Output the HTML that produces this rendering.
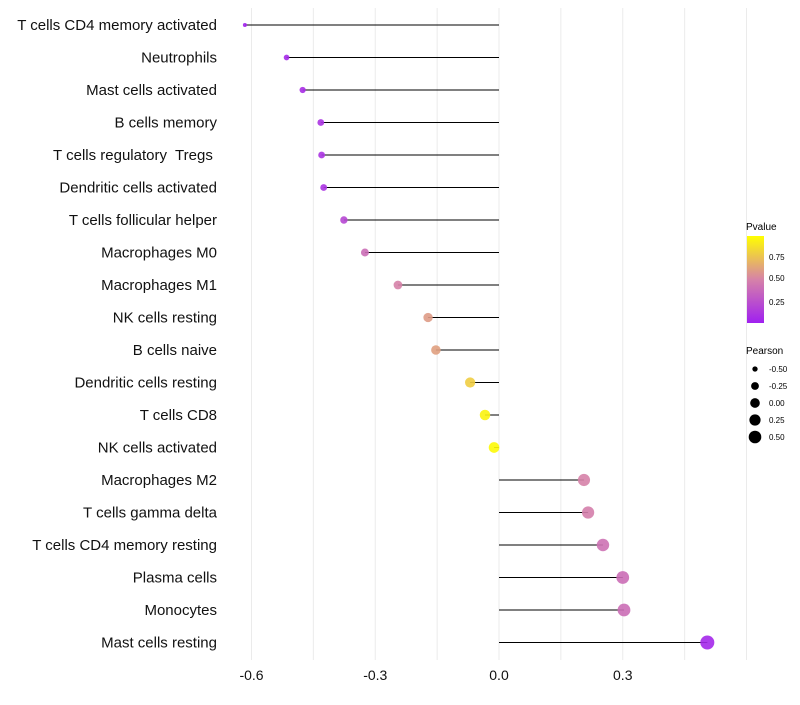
<!DOCTYPE html>
<html><head><meta charset="utf-8"><style>
body{margin:0;background:#fff;font-family:"Liberation Sans",sans-serif}
</style></head><body>
<svg id="chart" width="800" height="700" xmlns="http://www.w3.org/2000/svg" font-family="Liberation Sans, sans-serif">
<g id="grid"></g>
<g id="marks"></g>
<g id="axes"></g>
<g id="legend">
<defs><linearGradient id="pg" x1="0" y1="1" x2="0" y2="0">
<stop offset="0" stop-color="#a020f0"/><stop offset="0.5" stop-color="#d682a8"/><stop offset="1" stop-color="#ffff00"/></linearGradient></defs>
<text x="746" y="230" font-size="10">Pvalue</text>
<rect x="747" y="236" width="17" height="87" fill="url(#pg)"/>
<text x="769" y="260" font-size="8">0.75</text>
<text x="769" y="281" font-size="8">0.50</text>
<text x="769" y="305" font-size="8">0.25</text>
<text x="746" y="354" font-size="10">Pearson</text>
</g>
</svg>
<script>
const categories=["T cells CD4 memory activated","Neutrophils","Mast cells activated","B cells memory","T cells regulatory  Tregs ","Dendritic cells activated","T cells follicular helper","Macrophages M0","Macrophages M1","NK cells resting","B cells naive","Dendritic cells resting","T cells CD8","NK cells activated","Macrophages M2","T cells gamma delta","T cells CD4 memory resting","Plasma cells","Monocytes","Mast cells resting"];
const pearson=[-0.616,-0.515,-0.476,-0.432,-0.43,-0.425,-0.376,-0.325,-0.245,-0.172,-0.153,-0.07,-0.034,-0.012,0.206,0.216,0.252,0.30,0.303,0.505];
const pvalue=[0.02,0.05,0.07,0.1,0.1,0.1,0.2,0.4,0.5,0.6,0.62,0.8,0.95,0.98,0.5,0.48,0.42,0.4,0.4,0.04];
const xTicks=[-0.6,-0.3,0.0,0.3];
const xTickLabels=["-0.6","-0.3","0.0","0.3"];
const legendSizes=[-0.5,-0.25,0,0.25,0.5];
const legendLabels=["-0.50","-0.25","0.00","0.25","0.50"];
const NS="http://www.w3.org/2000/svg";
const x=v=>499+v*412.5;
const y=i=>25+i*32.5;
const r=v=>Math.sqrt(Math.max(2,28.8+40.1*v));
function lerp(a,b,t){return a+(b-a)*t}
function col(p){const s=[[0,[160,32,240]],[0.5,[214,130,168]],[1,[255,255,0]]];let k=p<0.5?0:1;const t=(p-s[k][0])/0.5;const c=s[k][1].map((v,j)=>Math.round(lerp(v,s[k+1][1][j],t)));return`rgb(${c})`}
function mk(tag,attrs,parent){const e=document.createElementNS(NS,tag);for(const k in attrs)e.setAttribute(k,attrs[k]);parent.appendChild(e);return e}
const grid=document.getElementById('grid'),marks=document.getElementById('marks'),axes=document.getElementById('axes'),legend=document.getElementById('legend');
for(let v=-0.6;v<=0.61;v+=0.15){const g=mk('line',{x1:x(v),x2:x(v),y1:8,y2:660,stroke:'#ebebeb','stroke-width':1},grid);

}
categories.forEach((c,i)=>{
const t=mk('text',{x:217,y:y(i)+5,'font-size':15,'text-anchor':'end',fill:'#111','xml:space':'preserve'},axes);t.style.whiteSpace='pre';t.textContent=c;


const l=mk('line',{x1:x(0),x2:x(pearson[i]),y1:y(i),y2:y(i),stroke:'#000','stroke-width':1},marks);


const d=mk('circle',{cx:x(pearson[i]),cy:y(i),r:r(pearson[i]),fill:col(pvalue[i]),'fill-opacity':0.9},marks);


});
xTicks.forEach((v,i)=>{const t=mk('text',{x:x(v),y:680,'font-size':14,'text-anchor':'middle',fill:'#111'},axes);t.textContent=xTickLabels[i];

});
legendSizes.forEach((v,i)=>{const cy=369+i*17;
const c=mk('circle',{cx:755,cy:cy,r:r(v)*0.9,fill:'#000'},legend);


const t=mk('text',{x:769,y:cy+3,'font-size':8},legend);t.textContent=legendLabels[i];

});
</script>
</body></html>
